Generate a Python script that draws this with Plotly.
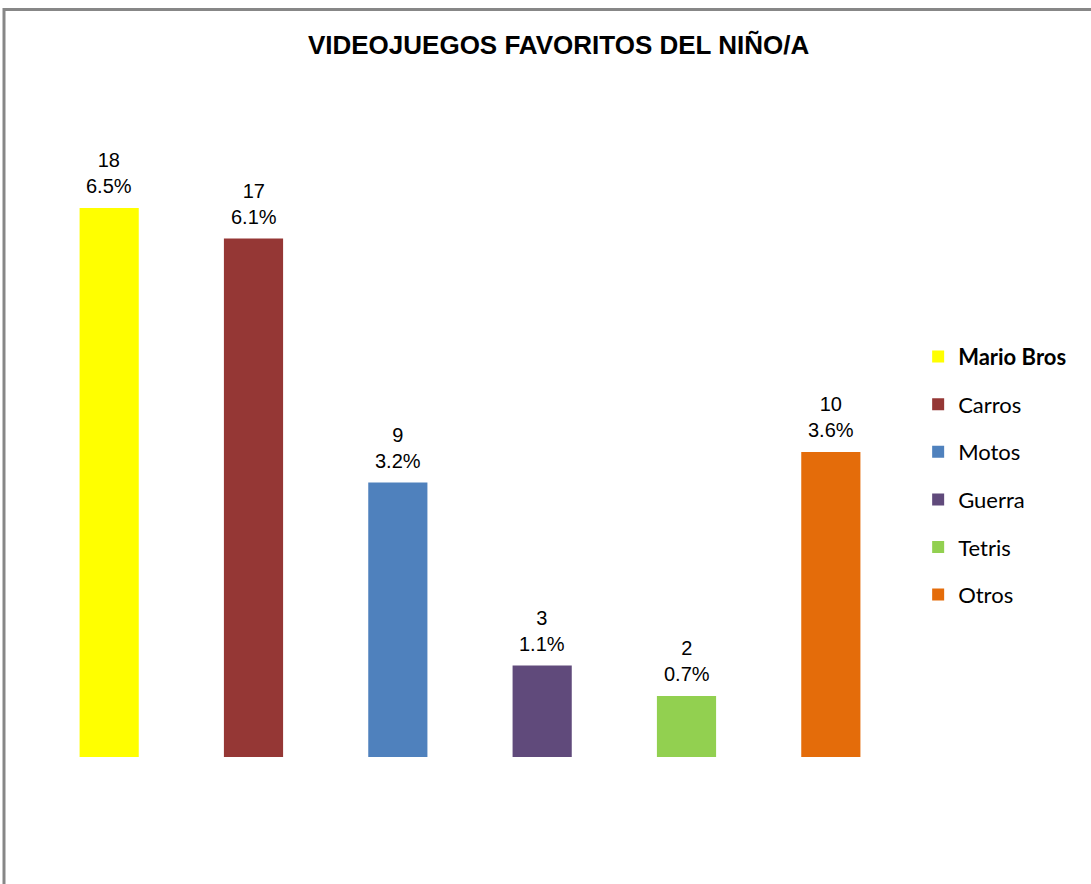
import plotly.graph_objects as go

categories = ["Mario Bros", "Carros", "Motos", "Guerra", "Tetris", "Otros"]
counts = [18, 17, 9, 3, 2, 10]
percents = ["6.5%", "6.1%", "3.2%", "1.1%", "0.7%", "3.6%"]
colors = ["#FFFF00", "#953735", "#4F81BD", "#604A7B", "#92D050", "#E46C0A"]
legend_names = ["<b>Mario Bros</b>", "Carros", "Motos", "Guerra", "Tetris", "Otros"]

fig = go.Figure()
for i, cat in enumerate(categories):
    fig.add_trace(go.Bar(
        x=[cat], y=[counts[i]], name=legend_names[i],
        marker=dict(color=colors[i], line=dict(width=0)),
        width=0.41, legendgroup=cat,
    ))
    fig.add_annotation(
        x=cat, y=counts[i], xref="x", yref="y",
        text=f"{counts[i]}<br>{percents[i]}", showarrow=False,
        yanchor="bottom", yshift=9,
        font=dict(family="Liberation Sans, Arial", size=20, color="#000"),
    )

fig.update_layout(
    width=1091, height=884,
    margin=dict(l=37, r=188, t=147, b=127),
    paper_bgcolor="white", plot_bgcolor="white",
    barmode="overlay",
    title=dict(text="<b>VIDEOJUEGOS FAVORITOS DEL NIÑO/A</b>",
               x=0.512, xanchor="center", y=0.949, yanchor="middle",
               font=dict(family="Liberation Sans, Arial", size=26, color="#000")),
    xaxis=dict(visible=False, range=[-0.5, 5.5]),
    yaxis=dict(visible=False, range=[0, 20]),
    legend=dict(x=1.0175, xanchor="left", y=0.461, yanchor="middle",
                font=dict(family="Lato", size=22, color="#000"),
                tracegroupgap=16, traceorder="grouped",
                bgcolor="rgba(0,0,0,0)"),
    showlegend=True,
)

fig.add_shape(type="line", xref="paper", yref="paper",
              x0=(4 - 37) / 866, x1=(1100 - 37) / 866,
              y0=(757 - 9.5) / 610, y1=(757 - 9.5) / 610,
              line=dict(color="#878787", width=3))
fig.add_shape(type="line", xref="paper", yref="paper",
              x0=(4 - 37) / 866, x1=(4 - 37) / 866,
              y0=(757 - 8) / 610, y1=(757 - 900) / 610,
              line=dict(color="#878787", width=3))

fig.write_html("out.html", config={"displayModeBar": False},
               post_script="document.body.style.margin='0';")
